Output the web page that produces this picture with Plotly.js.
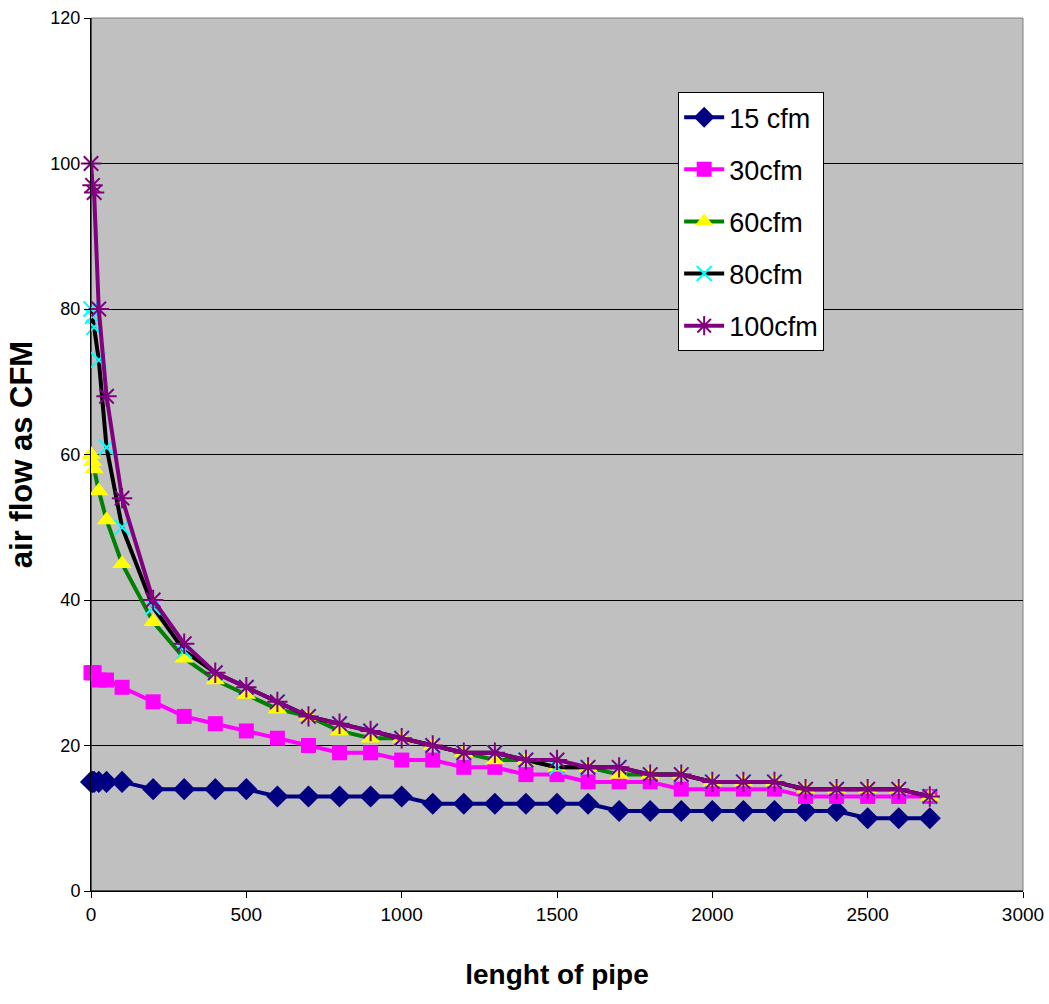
<!DOCTYPE html>
<html>
<head>
<meta charset="utf-8">
<script src="https://cdn.plot.ly/plotly-3.0.1.min.js"></script>
<style>
  html, body { margin: 0; padding: 0; background: #ffffff; }
  #chart { width: 1049px; height: 1004px; }
</style>
</head>
<body>
<div id="chart"></div>
<script>
// Pipe length (x) shared by every series
const pipeLength = [0, 5, 10, 25, 50, 100, 200, 300, 400, 500, 600, 700, 800, 900, 1000,
  1100, 1200, 1300, 1400, 1500, 1600, 1700, 1800, 1900, 2000, 2100, 2200, 2300, 2400, 2500, 2600, 2700];

// Air flow values (CFM)
const flow15 = [15, 15, 15, 15, 15, 15, 14, 14, 14, 14, 13, 13, 13, 13, 13,
  12, 12, 12, 12, 12, 12, 11, 11, 11, 11, 11, 11, 11, 11, 10, 10, 10];
const flow30 = [30, 30, 30, 29, 29, 28, 26, 24, 23, 22, 21, 20, 19, 19, 18,
  18, 17, 17, 16, 16, 15, 15, 15, 14, 14, 14, 14, 13, 13, 13, 13, 13];
const flow60 = [60, 59, 58, 55, 51, 45, 37, 32, 29, 27, 25, 24, 22, 21, 21,
  20, 19, 18, 18, 17, 17, 16, 16, 16, 15, 15, 15, 14, 14, 14, 14, 13];
const flow80 = [80, 79, 77.5, 73, 61, 50, 39, 33, 30, 28, 26, 24, 23, 22, 21,
  20, 19, 19, 18, 17, 17, 17, 16, 16, 15, 15, 15, 14, 14, 14, 14, 13];
const flow100 = [100, 97, 96, 80, 68, 54, 40, 34, 30, 28, 26, 24, 23, 22, 21,
  20, 19, 19, 18, 18, 17, 17, 16, 16, 15, 15, 15, 14, 14, 14, 14, 13];

const seriesNames = ['15 cfm', '30cfm', '60cfm', '80cfm', '100cfm'];
const xTickVals = [0, 500, 1000, 1500, 2000, 2500, 3000];
const yTickVals = [0, 20, 40, 60, 80, 100, 120];

const traces = [
  {
    x: pipeLength, y: flow15, name: seriesNames[0], legendgroup: 'g1',
    mode: 'lines+markers', type: 'scatter', cliponaxis: false,
    line: { color: '#000080', width: 4 },
    marker: { symbol: 'diamond', size: 17, color: '#000080' }
  },
  {
    x: pipeLength, y: flow30, name: seriesNames[1], legendgroup: 'g2',
    mode: 'lines+markers', type: 'scatter', cliponaxis: false,
    line: { color: '#FF00FF', width: 4 },
    marker: { symbol: 'square', size: 15, color: '#FF00FF' }
  },
  {
    x: pipeLength, y: flow60, name: seriesNames[2], legendgroup: 'g3',
    mode: 'lines+markers', type: 'scatter', cliponaxis: false,
    line: { color: '#008000', width: 4 },
    marker: { symbol: 'triangle-up', size: 17, color: '#FFFF00' }
  },
  {
    x: pipeLength, y: flow80, name: seriesNames[3], legendgroup: 'g4',
    mode: 'lines+markers', type: 'scatter', cliponaxis: false,
    line: { color: '#000000', width: 4 },
    marker: { symbol: 'x-thin-open', size: 15, color: '#00FFFF', line: { color: '#00FFFF', width: 2 } }
  },
  {
    x: pipeLength, y: flow100, name: seriesNames[4], legendgroup: 'g5',
    mode: 'lines+markers', type: 'scatter', cliponaxis: false,
    line: { color: '#800080', width: 4 },
    marker: { symbol: 'asterisk-open', size: 17, color: '#800080', line: { color: '#800080', width: 2 } }
  }
];

const baseFont = 'Liberation Sans, Arial, sans-serif';

const layout = {
  width: 1049,
  height: 1004,
  margin: { l: 91, r: 26, t: 18, b: 113 },
  paper_bgcolor: '#FFFFFF',
  plot_bgcolor: '#C0C0C0',
  showlegend: true,
  legend: {
    x: 0.63, y: 0.915, xanchor: 'left', yanchor: 'top',
    bgcolor: '#FFFFFF', bordercolor: '#000000', borderwidth: 1,
    font: { family: baseFont, size: 27, color: '#000000' },
    traceorder: 'grouped', tracegroupgap: 14, itemwidth: 40
  },
  xaxis: {
    range: [0, 3000], tickvals: xTickVals, ticktext: xTickVals.map(String),
    showgrid: false, zeroline: false,
    showline: true, linecolor: '#000000', linewidth: 1,
    ticks: 'outside', ticklen: 6, tickcolor: '#000000', tickwidth: 1,
    tickfont: { family: baseFont, size: 19, color: '#000000' },
    title: { text: 'lenght of pipe', font: { family: baseFont, size: 28, color: '#000000', weight: 'bold' }, standoff: 40 }
  },
  yaxis: {
    range: [0, 120], tickvals: yTickVals, ticktext: yTickVals.map(String),
    showgrid: true, gridcolor: '#000000', gridwidth: 1, zeroline: false,
    showline: true, linecolor: '#000000', linewidth: 1,
    ticks: 'outside', ticklen: 6, tickcolor: '#000000', tickwidth: 1,
    tickfont: { family: baseFont, size: 18, color: '#000000' },
    title: { text: 'air flow as CFM', font: { family: baseFont, size: 31, color: '#000000', weight: 'bold' }, standoff: 8 }
  },
  shapes: [
    { type: 'rect', xref: 'paper', yref: 'paper', x0: 0, x1: 1, y0: 0, y1: 1,
      line: { color: '#808080', width: 1 }, fillcolor: 'rgba(0,0,0,0)', layer: 'below' },
    { type: 'line', xref: 'paper', yref: 'paper', x0: 0, x1: 0, y0: 0, y1: 1,
      line: { color: '#000000', width: 1 }, layer: 'below' },
    { type: 'line', xref: 'paper', yref: 'paper', x0: 0, x1: 1, y0: 0, y1: 0,
      line: { color: '#000000', width: 1 }, layer: 'below' }
  ]
};

Plotly.newPlot('chart', traces, layout, { displayModeBar: false, staticPlot: true });
</script>
</body>
</html>
